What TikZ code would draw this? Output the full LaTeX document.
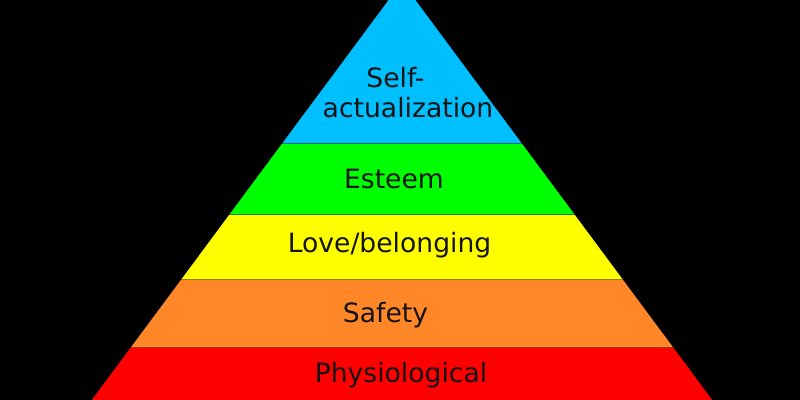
\documentclass[tikz,border=0pt]{standalone}
\usepackage{fontspec}
\setmainfont{DejaVu Sans}
\definecolor{cblue}{RGB}{0,191,255}
\definecolor{cgreen}{RGB}{0,255,0}
\definecolor{cyellow}{RGB}{255,255,0}
\definecolor{corange}{RGB}{255,135,40}
\definecolor{cred}{RGB}{255,0,0}
\begin{document}
\begin{tikzpicture}[x=0.5pt,y=-0.5pt,
  lbl/.style={font=\fontsize{13.3}{16}\selectfont, anchor=base, inner sep=0pt, text=black!92},
  sepline/.style={draw=black, draw opacity=0.45, line width=0.5pt}]
\useasboundingbox (0,0) rectangle (800,400);
\fill[black] (0,0) rectangle (800,400);
\clip (0,0) rectangle (800,400);
\coordinate (apex) at (402,-18);
\coordinate (l1) at (281.8,144); \coordinate (r1) at (522.2,144);
\coordinate (l2) at (229.1,215); \coordinate (r2) at (574.9,215);
\coordinate (l3) at (180.9,280); \coordinate (r3) at (623.1,280);
\coordinate (l4) at (130.4,348); \coordinate (r4) at (673.6,348);
\coordinate (l5) at (91.8,400);  \coordinate (r5) at (712.2,400);
\fill[cblue] (apex) -- (r1) -- (l1) -- cycle;
\fill[cgreen] (l1) -- (r1) -- (r2) -- (l2) -- cycle;
\fill[cyellow] (l2) -- (r2) -- (r3) -- (l3) -- cycle;
\fill[corange] (l3) -- (r3) -- (r4) -- (l4) -- cycle;
\fill[cred] (l4) -- (r4) -- (r5) -- (l5) -- cycle;
\draw[sepline] (l1) -- (r1);
\draw[sepline] (l2) -- (r2);
\draw[sepline] (l3) -- (r3);
\draw[sepline] (l4) -- (r4);
\node[lbl] (self) at (395.5,88) {Self-};
\node[lbl] (actual) at (408,118) {actualization};
\node[lbl] (esteem) at (394,189) {Esteem};
\node[lbl] (love) at (389.5,253) {Love/belonging};
\node[lbl] (safety) at (385.5,323) {Safety};
\node[lbl] (physio) at (401,383) {Physiological};
\end{tikzpicture}
\end{document}
